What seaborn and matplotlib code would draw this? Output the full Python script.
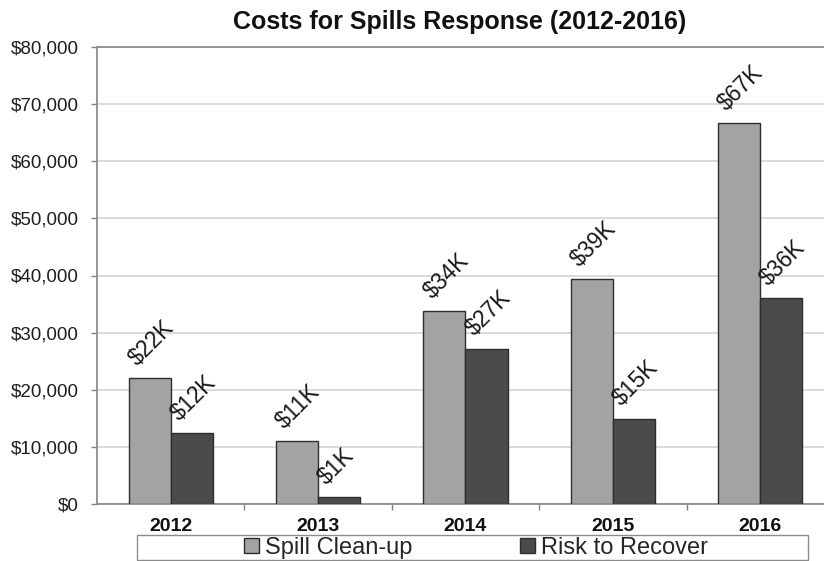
import matplotlib
matplotlib.use("Agg")
import matplotlib.pyplot as plt
from matplotlib.patches import Patch, Rectangle
from matplotlib.ticker import FuncFormatter, FixedLocator
import pandas as pd
import seaborn as sns

years = ["2012", "2013", "2014", "2015", "2016"]
series = ["Spill Clean-up", "Risk to Recover"]
clean_up = [22000, 11000, 33800, 39300, 66700]
risk_recover = [12400, 1200, 27200, 14900, 36000]
title = "Costs for Spills Response (2012-2016)"

colors = ["#a3a3a3", "#4b4b4b"]
edge = "#2e2e2e"

df = pd.DataFrame({
    "year": years * 2,
    "series": [series[0]] * len(years) + [series[1]] * len(years),
    "cost": clean_up + risk_recover,
})

sns.set_theme(style="white")
plt.rcParams["font.family"] = ["Liberation Sans", "DejaVu Sans"]

fig = plt.figure(figsize=(8.24, 5.61), dpi=100)
W, H = 824, 561
ax = fig.add_axes([97 / W, (H - 504) / H, 737 / W, 457 / H])

sns.barplot(data=df, x="year", y="cost", hue="series", palette=colors,
            width=0.57, saturation=1, edgecolor=edge, linewidth=1.0,
            ax=ax, legend=False, zorder=3)

ax.set_xlim(-0.5, 4.5)
ax.set_ylim(0, 80000)
ax.set_yticks(range(0, 80001, 10000))
ax.yaxis.set_major_formatter(FuncFormatter(lambda v, p: f"${v:,.0f}"))
ax.grid(axis="y", color="#d4d4d4", linewidth=1.2, zorder=0)
ax.set_axisbelow(True)

# category boundaries as small outward ticks
ax.xaxis.set_minor_locator(FixedLocator([0.5, 1.5, 2.5, 3.5]))
ax.tick_params(axis="x", which="major", length=0, pad=10, labelsize=14)
ax.tick_params(axis="x", which="minor", length=4, width=1, color="#808080",
               direction="out", bottom=True)
ax.tick_params(axis="y", length=4, width=1, color="#808080", direction="out",
               left=True, pad=9, labelsize=13.5, labelcolor="#1e1e1e")
for lab in ax.get_xticklabels():
    lab.set_fontweight("bold")
    lab.set_color("#111111")

ax.set_xlabel("")
ax.set_ylabel("")

for side in ["left", "bottom", "top", "right"]:
    ax.spines[side].set_visible(True)
    ax.spines[side].set_color("#8c8c8c")
    ax.spines[side].set_linewidth(1.3)

# value labels above each bar
for container in ax.containers:
    for bar in container:
        h = bar.get_height()
        ax.annotate(f"${round(h / 1000):.0f}K",
                    xy=(bar.get_x(), h), xytext=(6, 8.5),
                    textcoords="offset points", rotation=45,
                    rotation_mode="anchor", ha="left", va="baseline",
                    fontsize=16.5, color="#1a1a1a", annotation_clip=False)

ax.set_title(title, fontsize=18, fontweight="bold", pad=13, color="#111111",
             x=0.4925)

handles = [Patch(facecolor=c, edgecolor=edge, linewidth=1.0) for c in colors]
fig.legend(handles, series, loc="center", ncol=2,
           bbox_to_anchor=(476 / W, 1 - 548 / H), frameon=False,
           fontsize=17, handlelength=0.6, handleheight=0.6,
           handletextpad=0.25, columnspacing=4.6, borderpad=0)
fig.patches.append(Rectangle((137 / W, 1 / H), 671 / W, 25 / H,
                             transform=fig.transFigure, fill=False,
                             edgecolor="#8c8c8c", linewidth=1.0))

fig.savefig("out.png", dpi=100, facecolor="white")
